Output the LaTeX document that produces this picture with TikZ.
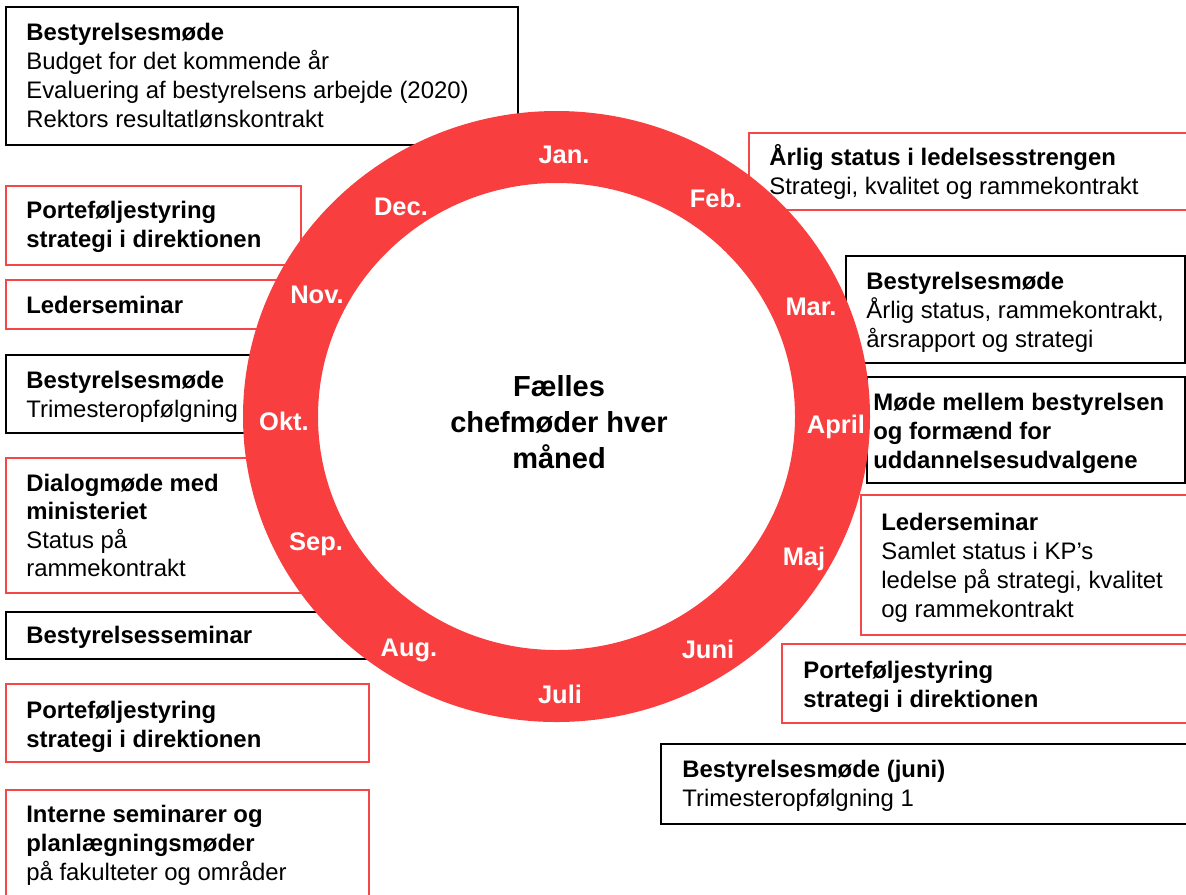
\documentclass[tikz,border=0pt]{standalone}
\usepackage{fontspec}
\setmainfont{Liberation Sans}
\usepackage{tikz}
\usetikzlibrary{positioning,calc}
\definecolor{ringred}{RGB}{249,62,64}
\definecolor{boxred}{RGB}{245,70,72}

\begin{document}
\begin{tikzpicture}[x=0.02cm, y=-0.02cm,
    blackbox/.style={draw=black, line width=1.1pt},
    redbox/.style={draw=boxred, line width=0.9pt},
    boxtext/.style={anchor=base west, align=left, inner sep=0pt, font=\fontsize{13.6}{16.5}\selectfont},
    month/.style={anchor=base, inner sep=0pt, text=white, font=\fontsize{14.5}{17}\selectfont\bfseries},
    hub/.style={anchor=base, align=center, inner sep=0pt, font=\fontsize{16.5}{20.4}\selectfont\bfseries}]
    \useasboundingbox (0,0) rectangle (1186,894);
    \clip (0,0) rectangle (1186,894);
    \draw[blackbox] (6,7) rectangle (518,145);
    \draw[redbox] (6,186) rectangle (301,265);
    \draw[redbox] (6,280) rectangle (300,329);
    \draw[blackbox] (6,355) rectangle (280,433);
    \draw[redbox] (6,458) rectangle (320,593);
    \draw[blackbox] (6,612) rectangle (400,659);
    \draw[redbox] (6,684) rectangle (369,762);
    \draw[redbox] (6,790) rectangle (369,910);
    \draw[redbox] (749,133) rectangle (1200,210);
    \draw[blackbox] (846,256) rectangle (1185,363);
    \draw[blackbox] (867,377) rectangle (1185,483);
    \draw[redbox] (861,495) rectangle (1200,635);
    \draw[redbox] (782,644) rectangle (1200,723);
    \draw[blackbox] (661,744) rectangle (1200,824);
    \coordinate (c) at (556.5,416.5);
    \fill[ringred, even odd rule] (c) ellipse [x radius=313.5, y radius=305.5]
        (c) ellipse [x radius=238.5, y radius=233.5];
    \node[boxtext] (dec1) at (26,127) {\textbf{Bestyrelsesmøde}\\Budget for det kommende år\\Evaluering af bestyrelsens arbejde (2020)\\Rektors resultatlønskontrakt};
    \node[boxtext] (dec2) at (26,247) {\textbf{Porteføljestyring}\\\textbf{strategi i direktionen}};
    \node[boxtext] (nov1) at (26,313) {\textbf{Lederseminar}};
    \node[boxtext] (okt1) at (26,417) {\textbf{Bestyrelsesmøde}\\Trimesteropfølgning};
    \node[boxtext, font=\fontsize{13.6}{16.2}\selectfont] (sep1) at (26,576.5) {\textbf{Dialogmøde med}\\\textbf{ministeriet}\\Status på\\rammekontrakt};
    \node[boxtext] (aug1) at (26,643) {\textbf{Bestyrelsesseminar}};
    \node[boxtext] (aug2) at (26,747) {\textbf{Porteføljestyring}\\\textbf{strategi i direktionen}};
    \node[boxtext] (jul1) at (26,880) {\textbf{Interne seminarer og}\\\textbf{planlægningsmøder}\\på fakulteter og områder};
    \node[boxtext] (feb1) at (769,194) {\textbf{Årlig status i ledelsesstrengen}\\Strategi, kvalitet og rammekontrakt};
    \node[boxtext] (mar1) at (866,347) {\textbf{Bestyrelsesmøde}\\Årlig status, rammekontrakt,\\årsrapport og strategi};
    \node[boxtext] (apr1) at (873,468) {\textbf{Møde mellem bestyrelsen}\\\textbf{og formænd for}\\\textbf{uddannelsesudvalgene}};
    \node[boxtext] (maj1) at (881,617) {\textbf{Lederseminar}\\Samlet status i KP’s\\ledelse på strategi, kvalitet\\og rammekontrakt};
    \node[boxtext] (jun1) at (803,707) {\textbf{Porteføljestyring}\\\textbf{strategi i direktionen}};
    \node[boxtext] (jun2) at (682,806) {\textbf{Bestyrelsesmøde (juni)}\\Trimesteropfølgning 1};
    \node[month] (jan) at (564,163) {Jan.};
    \node[month] (feb) at (716,207) {Feb.};
    \node[month] (mar) at (811,315) {Mar.};
    \node[month] (apr) at (836,433) {April};
    \node[month] (maj) at (804,565) {Maj};
    \node[month] (jun) at (708,658) {Juni};
    \node[month] (jul) at (560,703) {Juli};
    \node[month] (aug) at (409,656) {Aug.};
    \node[month] (sep) at (316,550) {Sep.};
    \node[month] (okt) at (284,430) {Okt.};
    \node[month] (nov) at (317,303) {Nov.};
    \node[month] (dec) at (401,215) {Dec.};
    \node[hub] (center) at (559,468) {Fælles\\chefmøder hver\\måned};
\end{tikzpicture}
\end{document}
